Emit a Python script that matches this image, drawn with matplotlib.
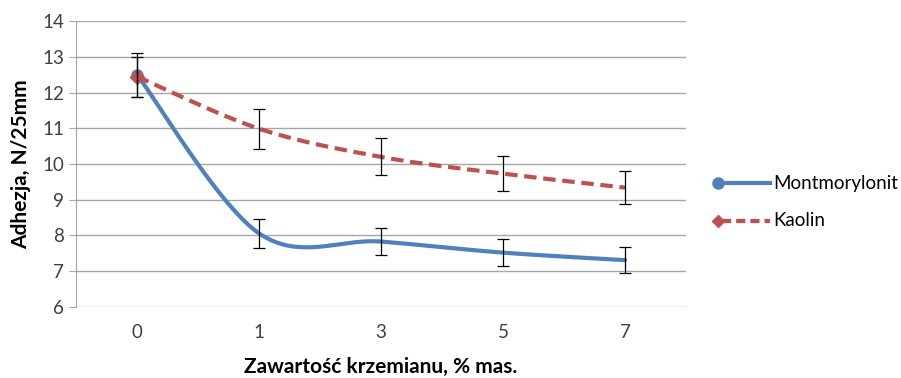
import numpy as np
import matplotlib.pyplot as plt
from matplotlib.lines import Line2D

# Dane
kategorie = ["0", "1", "3", "5", "7"]
montmorylonit = [12.5, 8.06, 7.83, 7.52, 7.31]
montmorylonit_err = [0.62, 0.40, 0.38, 0.37, 0.36]
kaolin = [12.45, 10.99, 10.2, 9.73, 9.34]
kaolin_err = [0.56, 0.56, 0.52, 0.49, 0.47]


def gladka_linia(x, y, n=40):
    # krzywa Catmull-Rom (jak "wygładzona linia" w Excelu)
    x = np.asarray(x, float)
    y = np.asarray(y, float)
    px = np.concatenate([[x[0]], x, [x[-1]]])
    py = np.concatenate([[y[0]], y, [y[-1]]])
    xs, ys = [], []
    for i in range(1, len(px) - 2):
        p0 = np.array([px[i], py[i]])
        p3 = np.array([px[i + 1], py[i + 1]])
        c1 = p0 + (np.array([px[i + 1], py[i + 1]]) - np.array([px[i - 1], py[i - 1]])) / 6
        c2 = p3 - (np.array([px[i + 2], py[i + 2]]) - np.array([px[i], py[i]])) / 6
        t = np.linspace(0, 1, n)[:, None]
        b = ((1 - t) ** 3) * p0 + 3 * ((1 - t) ** 2) * t * c1 + 3 * (1 - t) * t ** 2 * c2 + t ** 3 * p3
        xs.extend(b[:, 0])
        ys.extend(b[:, 1])
    return np.array(xs), np.array(ys)


plt.rcParams['font.family'] = ['Lato', 'DejaVu Sans']

fig = plt.figure(figsize=(9.01, 3.78), dpi=100)
ax = fig.add_axes([0.0844, 0.188, 0.677, 0.756])

x = np.arange(len(kategorie))
niebieski = "#4F81BD"
czerwony = "#C0504D"

xm, ym = gladka_linia(x, montmorylonit)
ax.plot(xm, ym, color=niebieski, lw=3, solid_capstyle='round', zorder=3)
ax.plot(x[:1], montmorylonit[:1], 'o', color=niebieski, ms=8, zorder=4)
ax.errorbar(x, montmorylonit, yerr=montmorylonit_err, fmt='none', ecolor='black',
            elinewidth=0.9, capsize=4, capthick=0.9, zorder=5)

xk, yk = gladka_linia(x, kaolin)
ax.plot(xk, yk, color=czerwony, lw=3, ls=(0, (3, 1.6)), zorder=3)
ax.plot(x[:1], kaolin[:1], 'D', color=czerwony, ms=7, zorder=4)
ax.errorbar(x, kaolin, yerr=kaolin_err, fmt='none', ecolor='black',
            elinewidth=0.9, capsize=4, capthick=0.9, zorder=5)

# legenda rysowana ręcznie (znacznik na lewym końcu linii)
W, H = 901, 378
for yy, kol, ls, mk, ms, nazwa in [(183, niebieski, '-', 'o', 8, "Montmorylonit"),
                                    (221, czerwony, (0, (2.2, 1.2)), 'D', 6.5, "Kaolin")]:
    fy = 1 - yy / H
    fig.add_artist(Line2D([722 / W, 770 / W], [fy, fy], color=kol, lw=3, ls=ls))
    fig.add_artist(Line2D([718 / W], [fy], color=kol, marker=mk, ms=ms, lw=0))
    fig.text(773 / W, fy, nazwa, fontsize=13.5, va='center', ha='left', color='black')

ax.set_xlim(-0.5, len(kategorie) - 0.5)
ax.set_ylim(6, 14)
ax.set_yticks(range(6, 15))
ax.set_xticks(x)
ax.set_xticklabels(kategorie)
ax.grid(axis='y', color='#a6a6a6', lw=1)
ax.set_axisbelow(True)
for s in ['top', 'right', 'bottom']:
    ax.spines[s].set_visible(False)
ax.spines['left'].set_color('#a6a6a6')
ax.tick_params(axis='y', colors='#a6a6a6', labelcolor='#404040', labelsize=13.5, length=5)
ax.tick_params(axis='x', length=0, labelcolor='#404040', labelsize=13.5, pad=12)

ax.set_ylabel("Adhezja, N/25mm", fontsize=15, fontweight='bold', labelpad=8)
ax.set_xlabel("Zawartość krzemianu, % mas.", fontsize=15, fontweight='bold', labelpad=12)

fig.savefig("out.png", dpi=100)
